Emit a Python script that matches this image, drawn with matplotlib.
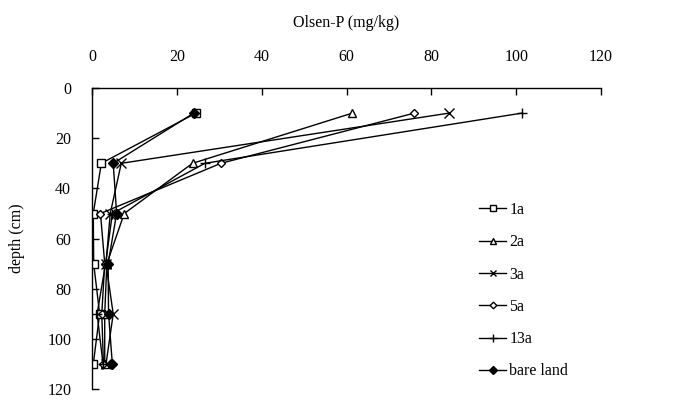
import matplotlib
matplotlib.use('Agg')
import matplotlib.pyplot as plt

plt.rcParams['font.family'] = ['Liberation Serif', 'DejaVu Serif']

# depth (cm) and Olsen-P (mg/kg) per site age
depth = [10, 30, 50, 70, 90, 110]
p_1a = [24.5, 2.2, 0.3, 0.4, 1.8, 0.3]
p_2a = [61.4, 23.7, 7.6, 3.5, 3.0, 3.0]
p_3a = [84.2, 6.9, 4.3, 3.3, 5.0, 3.3]
p_5a = [76.0, 30.4, 2.0, 3.0, 2.3, 2.7]
p_13a = [101.4, 26.6, 4.8, 3.2, 1.2, 2.6]
p_bare = [24.0, 5.0, 5.8, 3.8, 3.9, 4.8]

fig = plt.figure(figsize=(6.74, 4.0), dpi=100)
ax = fig.add_axes([0.1365, 0.027, 0.7552, 0.753])

# Plot each series
ax.plot(p_1a, depth, color='k', lw=1, marker='s', ms=5.5, mfc='white', mec='k', mew=1, label='1a')
ax.plot(p_2a, depth, color='k', lw=1, marker='^', ms=6, mfc='white', mec='k', mew=1, label='2a')
ax.plot(p_3a, depth, color='k', lw=1, marker='x', ms=6.5, mec='k', mew=1, label='3a')
ax.plot(p_5a, depth, color='k', lw=1, marker='D', ms=4.5, mfc='white', mec='k', mew=1, label='5a')
ax.plot(p_13a, depth, color='k', lw=1, marker='+', ms=7.5, mec='k', mew=1, label='13a')
ax.plot(p_bare, depth, color='k', lw=1, marker='D', ms=5, mfc='k', mec='k', label='bare land')

# Axes
ax.set_xlim(0, 120)
ax.set_ylim(120, 0)
ax.set_xticks(range(0, 121, 20))
ax.set_yticks(range(0, 121, 20))
ax.xaxis.tick_top()
ax.xaxis.set_label_position('top')
ax.spines['bottom'].set_visible(False)
ax.spines['right'].set_visible(False)
ax.spines['top'].set_linewidth(1)
ax.spines['left'].set_linewidth(1)
ax.tick_params(axis='x', direction='in', length=5, width=1, pad=16.5, labelsize=11.5)
ax.tick_params(axis='y', direction='in', length=5, width=1, pad=15, labelsize=11.5)
ax.set_xlabel('Olsen-P (mg/kg)', fontsize=11.5, labelpad=16)
ax.set_ylabel('depth (cm)', fontsize=11.5, labelpad=16)

# Labels and legend
ax.legend(loc='upper left', bbox_to_anchor=(0.699, 0.515), bbox_transform=fig.transFigure,
          frameon=False, fontsize=11.5, borderpad=0, handlelength=1.7, handletextpad=0.2,
          labelspacing=1.02, markerscale=0.75)

fig.savefig('out.png', dpi=100)
